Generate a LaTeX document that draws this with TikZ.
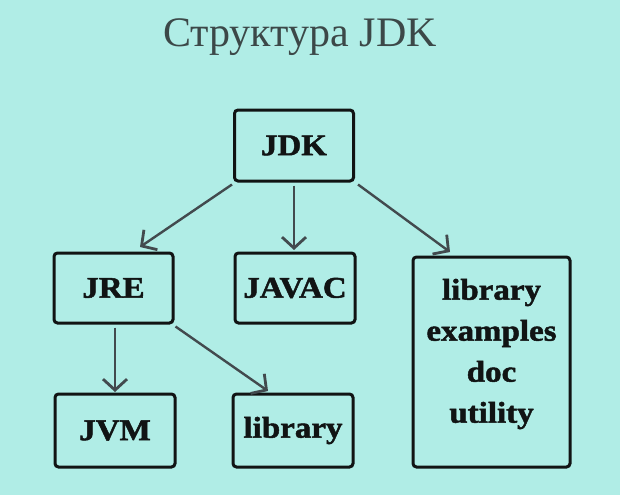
\documentclass[tikz,border=0pt]{standalone}
\usepackage{fontspec}
\setmainfont{Liberation Serif}
\newfontfamily\boxfont{Liberation Serif}[FakeStretch=1.1,FakeBold=1.6]
\usetikzlibrary{arrows.meta}
\definecolor{bgc}{RGB}{176,237,230}
\definecolor{titlec}{RGB}{60,72,72}
\definecolor{arrc}{RGB}{66,74,78}
\definecolor{boxc}{RGB}{17,20,20}
\begin{document}
\begin{tikzpicture}[x=1pt,y=-1pt,
  box/.style={draw=boxc,line width=3pt,rounded corners=3.5pt,inner sep=0pt,
    text=boxc,font=\boxfont\bfseries\fontsize{30}{41}\selectfont,align=center},
  lbl/.style={text=boxc,font=\boxfont\bfseries\fontsize{30}{41}\selectfont,align=center,inner sep=0pt},
  conn/.style={draw=arrc,line width=2.4pt,-{Straight Barb[length=11pt,width=24pt,line width=2.8pt]}}]
\useasboundingbox[fill=bgc] (0,0) rectangle (620,495);
\node[anchor=base,text=titlec,font=\fontsize{42}{48}\selectfont] (title) at (300,47) {Структура JDK};
\node[box,minimum width=119pt,minimum height=71pt] (jdk) at (294,145.5) {JDK};
\node[box,minimum width=119pt,minimum height=70pt] (jre) at (113.5,288) {JRE};
\node[box,minimum width=120pt,minimum height=70pt] (javac) at (295,288) {JAVAC};
\node[box,minimum width=120pt,minimum height=73pt] (jvm) at (115,430.5) {JVM};
\node[box,minimum width=120pt,minimum height=73pt] (lib) at (293,430.5) {library};
\node[box,minimum width=157pt,minimum height=210pt] (rest) at (491.5,362) {};
\node[lbl] (restlbl) at (491.5,354) {library\\examples\\doc\\utility};
\coordinate (t1) at (140,247);
\coordinate (t2) at (294,250);
\coordinate (t3) at (450,252);
\coordinate (t4) at (115,392);
\coordinate (t5) at (268,391);
\draw[conn] ([xshift=-1pt,yshift=-2pt]jdk.south west) -- (t1);
\draw[conn] ([yshift=-3pt]jdk.south) -- (t2);
\draw[conn] ([xshift=3pt,yshift=-2pt]jdk.south east) -- (t3);
\draw[conn] ([xshift=1.5pt,yshift=-3pt]jre.south) -- (t4);
\draw[conn] ([xshift=1pt,yshift=-2pt]jre.south east) -- (t5);
\end{tikzpicture}
\end{document}
